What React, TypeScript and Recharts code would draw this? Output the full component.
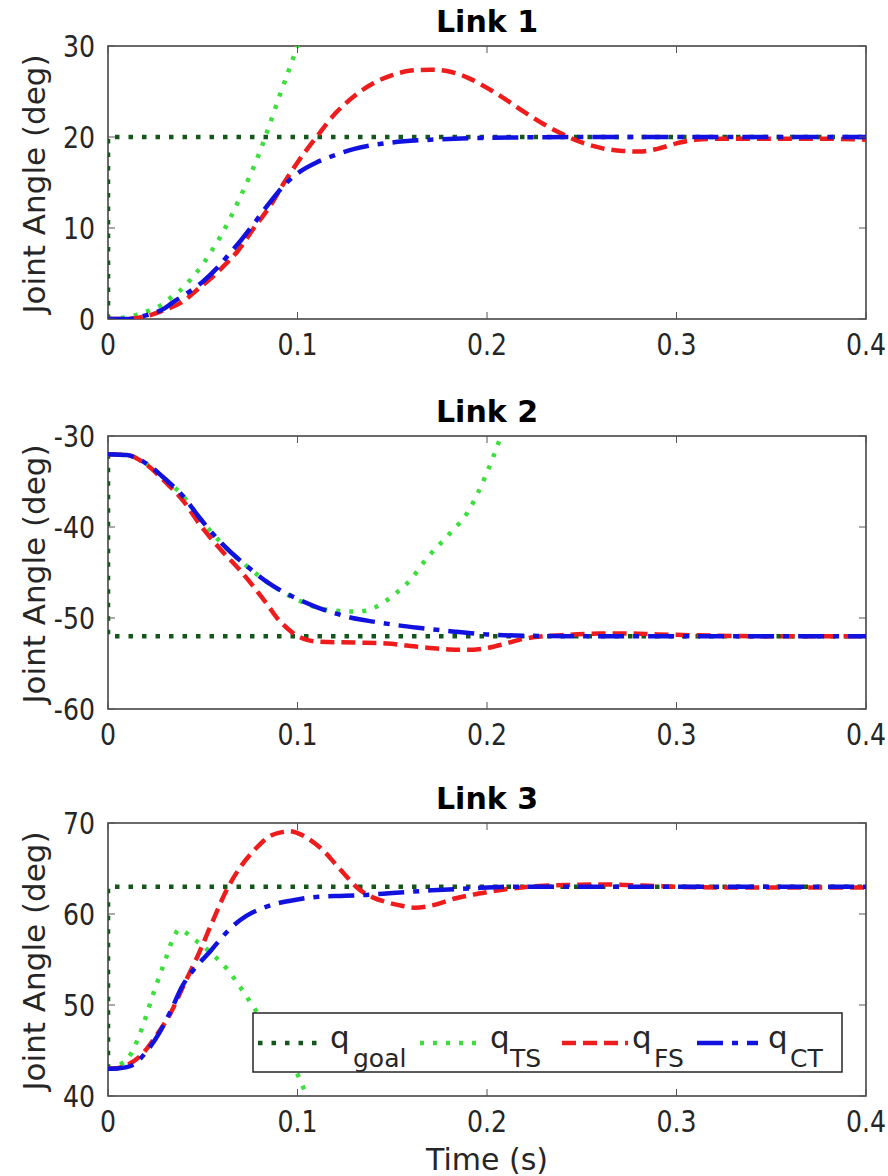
import React from 'react';
import { LineChart, Line, XAxis, YAxis, ReferenceArea, Legend } from 'recharts';

// ---------- shared axis data ----------
const timeTicks = [0, 0.1, 0.2, 0.3, 0.4];
const linkTitles = ['Link 1', 'Link 2', 'Link 3'];
const seriesNames = ['goal', 'TS', 'FS', 'CT'];

// ---------- Link 1 ----------
const link1YTicks = [0, 10, 20, 30];
const link1GoalT = [0, 0, 0.4];
const link1GoalV = [0, 20, 20];
const link1TsT = [0, 0.01, 0.02, 0.03, 0.034, 0.04, 0.045, 0.05, 0.055, 0.06, 0.065, 0.07, 0.075, 0.08, 0.085, 0.09, 0.095, 0.1, 0.105];
const link1TsV = [0, 0.2, 0.8, 1.8, 2.5, 3.5, 4.7, 6.0, 7.6, 9.3, 11.3, 13.5, 15.8, 18.3, 21.2, 24.2, 27.1, 30, 33];
const link1FsT = [0, 0.01, 0.02, 0.03, 0.04, 0.0475, 0.055, 0.06, 0.0686, 0.077, 0.0855, 0.093, 0.1, 0.11, 0.12, 0.13, 0.14, 0.15, 0.16, 0.17, 0.18, 0.19, 0.2, 0.21, 0.22, 0.23, 0.24, 0.25, 0.26, 0.27, 0.28, 0.29, 0.3, 0.31, 0.32, 0.34, 0.36, 0.38, 0.4];
const link1FsV = [0, 0, 0.3, 1.0, 2.0, 3.3, 4.6, 5.6, 7.5, 10, 12.4, 15, 17.2, 20, 22.6, 24.5, 25.9, 26.8, 27.3, 27.4, 27.2, 26.5, 25.4, 24.1, 22.7, 21.4, 20.3, 19.4, 18.8, 18.5, 18.4, 18.7, 19.3, 19.7, 19.8, 19.8, 19.8, 19.8, 19.7];
const link1CtT = [0, 0.01, 0.02, 0.03, 0.034, 0.04, 0.05, 0.058, 0.065, 0.07, 0.076, 0.085, 0.0944, 0.1, 0.11, 0.117, 0.13, 0.15, 0.17, 0.2, 0.25, 0.3, 0.4];
const link1CtV = [0, 0, 0.4, 1.2, 1.8, 2.6, 4.1, 5.7, 7.4, 8.6, 10.2, 12.7, 15, 16.0, 17.2, 17.8, 18.7, 19.4, 19.7, 19.9, 20, 20, 20];

// ---------- Link 2 ----------
const link2YTicks = [-60, -50, -40, -30];
const link2GoalT = [0, 0, 0.4];
const link2GoalV = [-32, -52, -52];
const link2TsT = [0, 0.01, 0.02, 0.03, 0.04, 0.048, 0.06, 0.075, 0.085, 0.099, 0.111, 0.12, 0.132, 0.14, 0.15, 0.16, 0.168, 0.18, 0.19, 0.2, 0.207, 0.212];
const link2TsV = [-32, -32.1, -33, -34.7, -36.7, -38.9, -41.8, -44.6, -46.2, -47.9, -48.9, -49.2, -49.3, -48.9, -47.6, -45.7, -43.5, -40.8, -38.3, -34.0, -30.2, -27];
const link2FsT = [0, 0.01, 0.02, 0.03, 0.04, 0.048, 0.06, 0.069, 0.077, 0.084, 0.09, 0.095, 0.099, 0.105, 0.111, 0.13, 0.147, 0.165, 0.18, 0.189, 0.2, 0.21, 0.219, 0.23, 0.243, 0.26, 0.273, 0.29, 0.31, 0.35, 0.4];
const link2FsV = [-32, -32.1, -33.1, -35, -37.2, -39.6, -42.6, -44.6, -46.6, -48.5, -50.2, -51.2, -51.85, -52.4, -52.6, -52.7, -52.8, -53.2, -53.45, -53.5, -53.3, -52.8, -52.3, -52, -51.85, -51.7, -51.7, -51.8, -51.9, -52, -52];
const link2CtT = [0, 0.01, 0.02, 0.03, 0.04, 0.048, 0.06, 0.075, 0.085, 0.099, 0.11, 0.12, 0.129, 0.14, 0.153, 0.165, 0.183, 0.2, 0.22, 0.25, 0.4];
const link2CtV = [-32, -32.1, -33, -34.7, -36.7, -38.9, -41.8, -44.6, -46.2, -47.8, -48.8, -49.5, -50, -50.4, -50.8, -51.1, -51.5, -51.8, -51.95, -52, -52];

// ---------- Link 3 ----------
const link3YTicks = [40, 50, 60, 70];
const link3GoalT = [0, 0, 0.4];
const link3GoalV = [43, 63, 63];
const link3TsT = [0, 0.005, 0.012, 0.018, 0.024, 0.03, 0.035, 0.0375, 0.04, 0.045, 0.05, 0.055, 0.063, 0.07, 0.078, 0.085, 0.092, 0.099, 0.105, 0.11];
const link3TsV = [43, 43.3, 44.6, 47.5, 51.3, 54.8, 57.6, 58.3, 58.1, 57.3, 56.5, 55.6, 53.9, 51.9, 49.4, 47.3, 45.1, 42.8, 40, 37.5];
const link3FsT = [0, 0.005, 0.01, 0.018, 0.025, 0.033, 0.04, 0.048, 0.055, 0.063, 0.07, 0.078, 0.085, 0.092, 0.096, 0.1, 0.107, 0.114, 0.12, 0.126, 0.132, 0.14, 0.147, 0.155, 0.162, 0.17, 0.183, 0.2, 0.213, 0.23, 0.246, 0.26, 0.273, 0.29, 0.31, 0.35, 0.4];
const link3FsV = [43, 43.05, 43.4, 44.6, 46.5, 49.1, 52.2, 55.7, 59.1, 62.8, 65.2, 67.2, 68.5, 69.0, 69.1, 68.9, 68.1, 66.9, 65.5, 64.1, 62.8, 61.8, 61.3, 60.9, 60.7, 60.9, 61.7, 62.4, 62.8, 63.1, 63.2, 63.25, 63.2, 63.05, 62.95, 62.9, 62.9];
const link3CtT = [0, 0.006, 0.012, 0.02, 0.027, 0.033, 0.039, 0.046, 0.054, 0.06, 0.066, 0.073, 0.081, 0.09, 0.1, 0.111, 0.125, 0.136, 0.15, 0.171, 0.19, 0.213, 0.25, 0.4];
const link3CtV = [43, 43.05, 43.3, 44.8, 46.9, 49.3, 52, 54.1, 55.9, 57.4, 58.7, 59.8, 60.6, 61.2, 61.6, 61.9, 62, 62.1, 62.3, 62.6, 62.8, 63, 63, 63];

// ---------- styling / layout ----------
const FONT = "'DejaVu Sans', sans-serif";
const TEXT = '#262626';
const PLOT_TOP = 46;
const PLOT_H = 273;
const PLOT_BOTTOM = PLOT_TOP + PLOT_H;
const PLOT_LEFT = 108;
const PLOT_RIGHT = 866;
const CX = (PLOT_LEFT + PLOT_RIGHT) / 2;

const STYLES = {
  goal: { color: '#14571a', dash: '4.5 9', width: 4.5, curve: 'linear' },
  TS: { color: '#3ddf3d', dash: '4 9', width: 4.5, curve: 'monotone' },
  FS: { color: '#ee1c1c', dash: '14 7', width: 4.5, curve: 'monotone' },
  CT: { color: '#1212e0', dash: '26 9 6 9', width: 4.5, curve: 'monotone' },
} as const;

const pts = (t: number[], v: number[]) => t.map((x, i) => ({ t: x, v: v[i] }));

const XTick = (props: any) => {
  const { x, payload } = props;
  return (
    <g>
      <line x1={x} x2={x} y1={PLOT_BOTTOM} y2={PLOT_BOTTOM - 7} stroke="#555" strokeWidth={1} />
      <line x1={x} x2={x} y1={PLOT_TOP} y2={PLOT_TOP + 7} stroke="#555" strokeWidth={1} />
      <text
        transform={`translate(${x},${PLOT_BOTTOM + 36}) scale(0.84,1)`}
        textAnchor="middle"
        fontSize={30}
        fontFamily={FONT}
        fill={TEXT}
      >
        {String(payload.value)}
      </text>
    </g>
  );
};

const YTick = (props: any) => {
  const { y, payload } = props;
  return (
    <g>
      <line x1={PLOT_LEFT} x2={PLOT_LEFT + 7} y1={y} y2={y} stroke="#555" strokeWidth={1} />
      <line x1={PLOT_RIGHT} x2={PLOT_RIGHT - 7} y1={y} y2={y} stroke="#555" strokeWidth={1} />
      <text
        transform={`translate(95,${y + 11}) scale(0.84,1)`}
        textAnchor="end"
        fontSize={30}
        fontFamily={FONT}
        fill={TEXT}
      >
        {String(payload.value)}
      </text>
    </g>
  );
};

const YLabel = () => (
  <text
    x={45}
    y={184}
    transform="rotate(-90, 45, 184)"
    textAnchor="middle"
    fontSize={31}
    fontFamily={FONT}
    fill={TEXT}
  >
    Joint Angle (deg)
  </text>
);

const XLabel = () => (
  <text x={CX} y={393} textAnchor="middle" fontSize={30} fontFamily={FONT} fill={TEXT}>
    Time (s)
  </text>
);

const legendItems = [
  { key: 'goal', x0: 6, x1: 70, q: 78, sub: 101 },
  { key: 'TS', x0: 168, x1: 231, q: 238, sub: 258 },
  { key: 'FS', x0: 310, x1: 376, q: 380, sub: 402 },
  { key: 'CT', x0: 445, x1: 506, q: 516, sub: 538 },
];

const LegendBox = () => (
  <svg width={591} height={61} style={{ display: 'block' }}>
    <rect x={1} y={1} width={589} height={59} fill="#fff" stroke="#262626" strokeWidth={1.5} />
    {legendItems.map((it, i) => {
      const s = (STYLES as any)[it.key];
      return (
        <g key={it.key}>
          <line x1={it.x0} x2={it.x1} y1={31} y2={31} stroke={s.color} strokeWidth={s.width} strokeDasharray={s.dash} />
          <text x={it.q} y={36} fontSize={31} fontFamily={FONT} fill={TEXT}>q</text>
          <text x={it.sub} y={55} fontSize={25} fontFamily={FONT} fill={TEXT}>{seriesNames[i]}</text>
        </g>
      );
    })}
  </svg>
);

type Panel = {
  title: string;
  top: number;
  height: number;
  yTicks: number[];
  series: { key: string; data: { t: number; v: number }[] }[];
  last: boolean;
};

const panels: Panel[] = [
  {
    title: linkTitles[0], top: 0, height: 390, yTicks: link1YTicks, last: false,
    series: [
      { key: 'goal', data: pts(link1GoalT, link1GoalV) },
      { key: 'TS', data: pts(link1TsT, link1TsV) },
      { key: 'FS', data: pts(link1FsT, link1FsV) },
      { key: 'CT', data: pts(link1CtT, link1CtV) },
    ],
  },
  {
    title: linkTitles[1], top: 390, height: 390, yTicks: link2YTicks, last: false,
    series: [
      { key: 'goal', data: pts(link2GoalT, link2GoalV) },
      { key: 'TS', data: pts(link2TsT, link2TsV) },
      { key: 'FS', data: pts(link2FsT, link2FsV) },
      { key: 'CT', data: pts(link2CtT, link2CtV) },
    ],
  },
  {
    title: linkTitles[2], top: 777, height: 399, yTicks: link3YTicks, last: true,
    series: [
      { key: 'goal', data: pts(link3GoalT, link3GoalV) },
      { key: 'TS', data: pts(link3TsT, link3TsV) },
      { key: 'FS', data: pts(link3FsT, link3FsV) },
      { key: 'CT', data: pts(link3CtT, link3CtV) },
    ],
  },
];

const PanelChart = ({ p }: { p: Panel }) => {
  const ymin = p.yTicks[0];
  const ymax = p.yTicks[p.yTicks.length - 1];
  const bottom = p.height - PLOT_TOP - PLOT_H - 30;
  return (
    <div style={{ position: 'absolute', left: 0, top: p.top, width: 888, height: p.height }}>
      <LineChart
        width={888}
        height={p.height}
        margin={{ top: PLOT_TOP, right: 888 - PLOT_RIGHT, bottom, left: PLOT_LEFT - 60 }}
      >
        <XAxis
          type="number"
          dataKey="t"
          domain={[0, 0.4]}
          ticks={timeTicks}
          allowDataOverflow
          axisLine={false}
          tickLine={false}
          height={30}
          tick={<XTick />}
          label={p.last ? <XLabel /> : undefined}
        />
        <YAxis
          type="number"
          dataKey="v"
          domain={[ymin, ymax]}
          ticks={p.yTicks}
          allowDataOverflow
          axisLine={false}
          tickLine={false}
          width={60}
          tick={<YTick />}
          label={<YLabel />}
        />
        <ReferenceArea x1={0} x2={0.4} y1={ymin} y2={ymax} fill="#fff" fillOpacity={0} stroke="#3a3a3a" strokeWidth={1.5} />
        {p.series.map((s) => {
          const st = (STYLES as any)[s.key];
          return (
            <Line
              key={s.key}
              data={s.data}
              dataKey="v"
              type={st.curve}
              stroke={st.color}
              strokeWidth={st.width}
              strokeDasharray={st.dash}
              dot={false}
              activeDot={false}
              isAnimationActive={false}
              name={s.key}
            />
          );
        })}
        {p.last && (
          <Legend
            layout="horizontal"
            verticalAlign="middle"
            align="center"
            wrapperStyle={{ position: 'absolute', left: 252, top: 235, width: 591, height: 61 }}
            content={() => <LegendBox />}
          />
        )}
      </LineChart>
      <svg
        width={888}
        height={40}
        style={{ position: 'absolute', left: 0, top: 0, pointerEvents: 'none' }}
      >
        <text x={CX} y={32} textAnchor="middle" fontSize={30} fontWeight="bold" fontFamily={FONT} fill="#000">
          {p.title}
        </text>
      </svg>
    </div>
  );
}

export default function App() {
  return (
    <div style={{ position: 'absolute', left: 0, top: 0, width: 888, height: 1176, background: '#fff', overflow: 'hidden' }}>
      {panels.map((p) => (
        <PanelChart key={p.title} p={p} />
      ))}
    </div>
  );
}
